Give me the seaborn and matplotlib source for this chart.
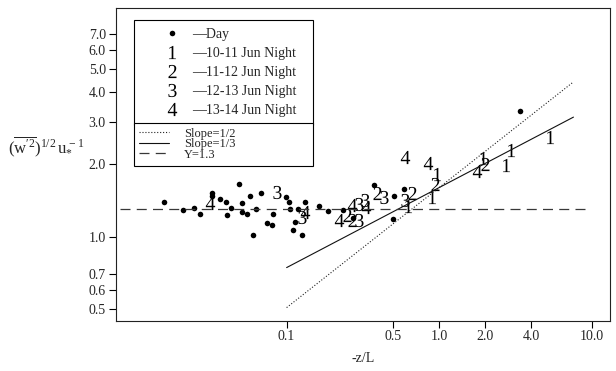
import matplotlib
matplotlib.use("Agg")
import matplotlib.pyplot as plt
import matplotlib.ticker as mticker
from matplotlib.lines import Line2D
import numpy as np
import seaborn as sns

# daytime runs: -z/L and normalised sigma_w
DAY_ZL = [0.0157, 0.0208, 0.0248, 0.0272, 0.0323, 0.0324, 0.0366, 0.0402, 0.0404,
          0.0430, 0.0487, 0.0507, 0.0513, 0.0549, 0.0575, 0.0599, 0.0634, 0.0679,
          0.0748, 0.0807, 0.0816, 0.0990, 0.1043, 0.1051, 0.1181, 0.1318, 0.1142,
          0.1105, 0.1254, 0.1636, 0.1857, 0.2349, 0.2732, 0.3750, 0.5047, 0.4950,
          0.5896, 3.415]
DAY_W = [1.388, 1.289, 1.318, 1.245, 1.514, 1.475, 1.429, 1.399, 1.226,
         1.321, 1.655, 1.375, 1.271, 1.245, 1.479, 1.015, 1.302, 1.514,
         1.142, 1.115, 1.239, 1.465, 1.388, 1.302, 1.308, 1.396, 1.155,
         1.067, 1.012, 1.340, 1.275, 1.289, 1.194, 1.639, 1.475, 1.179,
         1.573, 3.341]

# night runs
N1_ZL = [0.624, 0.892, 0.962, 1.942, 2.765, 2.982, 5.314]
N1_W = [1.340, 1.468, 1.830, 2.134, 1.986, 2.304, 2.598]
N2_ZL = [0.248, 0.268, 0.391, 0.663, 0.944, 1.993]
N2_W = [1.229, 1.172, 1.518, 1.518, 1.655, 2.005]
N3_ZL = [0.0864, 0.1265, 0.298, 0.326, 0.298, 0.436, 0.596]
N3_W = [1.532, 1.209, 1.366, 1.419, 1.172, 1.465, 1.419]
N4_ZL = [0.0314, 0.132, 0.220, 0.268, 0.334, 0.596, 0.847, 1.76]
N4_W = [1.375, 1.261, 1.172, 1.353, 1.327, 2.138, 2.018, 1.875]

NIGHTS = [
    ("1", N1_ZL, N1_W, "10-11 Jun Night"),
    ("2", N2_ZL, N2_W, "11-12 Jun Night"),
    ("3", N3_ZL, N3_W, "12-13 Jun Night"),
    ("4", N4_ZL, N4_W, "13-14 Jun Night"),
]

# reference lines
FIT_ZL = np.array([0.1, 7.6])
FIT_COEF = 1.6
FLAT_ZL = [0.0081, 9.4]
FLAT_W = 1.3

XTICKS = [0.1, 0.5, 1.0, 2.0, 4.0, 10.0]
YTICKS = [0.5, 0.6, 0.7, 1.0, 2.0, 3.0, 4.0, 5.0, 6.0, 7.0]

sns.set_style("ticks")
plt.rcParams["font.family"] = ["Liberation Serif", "DejaVu Serif"]
plt.rcParams["mathtext.fontset"] = "custom"
plt.rcParams["mathtext.rm"] = "Liberation Serif"
plt.rcParams["mathtext.it"] = "Liberation Serif:italic"
plt.rcParams["mathtext.bf"] = "Liberation Serif:bold"

MS = 9.5

fig = plt.figure(figsize=(6.16, 3.71), dpi=100)
ax = fig.add_axes([0.1875, 0.1361, 0.8028, 0.8423])

sns.lineplot(x=FIT_ZL, y=FIT_COEF * FIT_ZL ** 0.5, ax=ax, color="#222222",
             linestyle=":", linewidth=0.8)
sns.lineplot(x=FIT_ZL, y=FIT_COEF * FIT_ZL ** (1 / 3), ax=ax, color="#111111",
             linewidth=0.8)
sns.lineplot(x=FLAT_ZL, y=[FLAT_W, FLAT_W], ax=ax, color="#383838",
             linestyle=(0, (8, 5)), linewidth=0.9)

sns.scatterplot(x=DAY_ZL, y=DAY_W, ax=ax, color="black", s=16, linewidth=0)
for digit, zl, w, _ in NIGHTS:
    sns.scatterplot(x=zl, y=w, ax=ax, marker=f"${digit}$", color="black",
                    s=MS ** 2, linewidth=0)

ax.set_xscale("log")
ax.set_yscale("log")
ax.set_xlim(0.00755, 13.2)
ax.set_ylim(0.447, 8.96)

ax.set_xticks(XTICKS)
ax.set_xticklabels([f"{t:.1f}" for t in XTICKS])
ax.set_yticks(YTICKS)
ax.set_yticklabels([f"{t:.1f}" for t in YTICKS])
ax.xaxis.set_minor_locator(mticker.NullLocator())
ax.yaxis.set_minor_locator(mticker.NullLocator())
ax.tick_params(direction="out", length=5, width=0.8, color="black",
               labelsize=10, pad=2)
for sp in ax.spines.values():
    sp.set_visible(True)
    sp.set_linewidth(0.8)
    sp.set_color("#222222")

ax.set_xlabel("-z/L", fontsize=10, labelpad=6)
ax.set_ylabel(r"$(\overline{\mathrm{w}^{\prime 2}})^{1/2}\,\mathrm{u}_{*}^{\,-1}$",
              rotation=0, ha="right", va="center", fontsize=12)
ax.yaxis.set_label_coords(-0.062, 0.555)

# legend: symbols on top, lines below
sym_handles = [Line2D([], [], marker="o", markersize=4, linestyle="none",
                      color="black", markeredgewidth=0)]
sym_labels = ["\u2014Day"]
for digit, _, _, name in NIGHTS:
    sym_handles.append(Line2D([], [], marker=f"${digit}$", markersize=MS,
                              linestyle="none", color="black", markeredgewidth=0))
    sym_labels.append("\u2014" + name)

leg1 = ax.legend(sym_handles, sym_labels, loc="upper left",
                 bbox_to_anchor=(0.038, 0.633, 0.362, 0.3286), mode="expand",
                 borderaxespad=0, fontsize=10, frameon=True, fancybox=False,
                 edgecolor="black", framealpha=1, borderpad=0.6,
                 handlelength=4.3, handletextpad=-0.75, labelspacing=0.42)
leg1.get_frame().set_linewidth(0.8)
ax.add_artist(leg1)

line_handles = [
    Line2D([], [], color="#222222", linestyle=":", linewidth=0.8),
    Line2D([], [], color="#111111", linewidth=0.8),
    Line2D([], [], color="#383838", linestyle=(0, (8, 5)), linewidth=0.9),
]
line_labels = ["Slope=1/2", "Slope=1/3", "Y=1.3"]
leg2 = ax.legend(line_handles, line_labels, loc="upper left",
                 bbox_to_anchor=(0.038, 0.5008, 0.362, 0.1322), mode="expand",
                 borderaxespad=0, fontsize=9, frameon=True, fancybox=False,
                 edgecolor="black", framealpha=1, borderpad=0.4,
                 handlelength=2.4, handletextpad=1.2, labelspacing=-0.12)
leg2.get_frame().set_linewidth(0.8)

fig.savefig("out.png", dpi=100)
